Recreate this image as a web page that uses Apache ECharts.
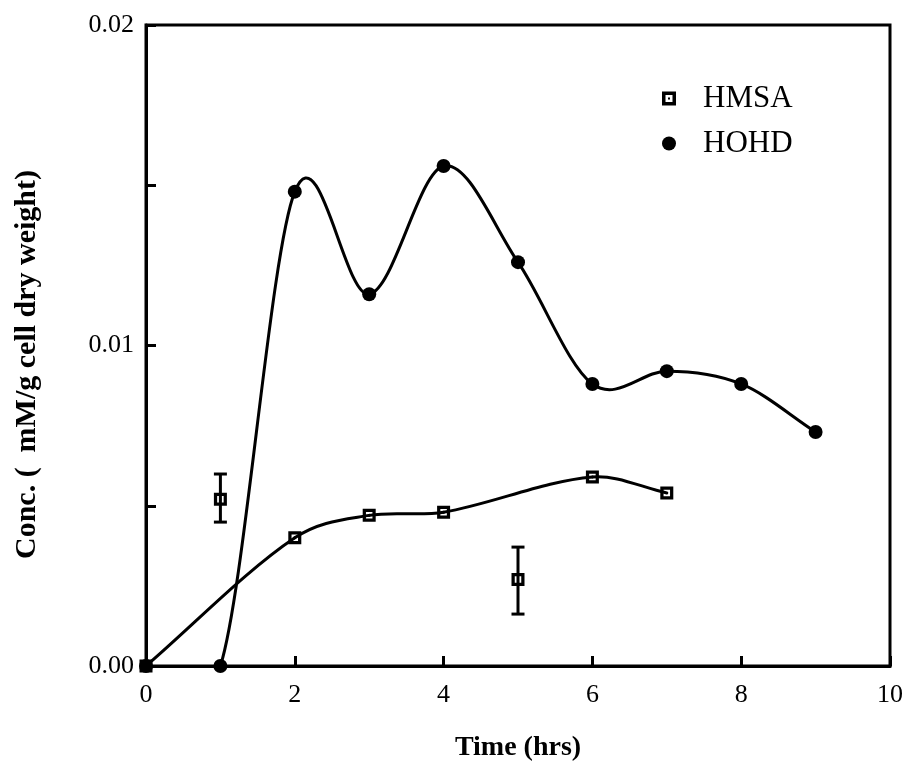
<!DOCTYPE html>
<html>
<head>
<meta charset="utf-8">
<script src="https://cdn.jsdelivr.net/npm/echarts@6/dist/echarts.min.js"></script>
<style>
html,body{margin:0;padding:0;background:#fff;}
#chart{width:906px;height:769px;}
</style>
</head>
<body>
<div id="chart"></div>
<script>
// ---- data ----
const xTicks = [0, 2, 4, 6, 8, 10];
const yTickLabels = ['0.00', '0.01', '0.02'];

const hohdTime = [0, 1, 2, 3, 4, 5, 6, 7, 8, 9];
const hohdConc = [0, 0, 0.0148, 0.0116, 0.0156, 0.0126, 0.0088, 0.0092, 0.0088, 0.0073];

const hmsaTime = [0, 2, 3, 4, 6, 7];
const hmsaConc = [0, 0.0040, 0.0047, 0.0048, 0.0059, 0.0054];

// separate HMSA points with error bars
const hmsaErrTime = [1, 5];
const hmsaErrConc = [0.0052, 0.0027];
const hmsaErrLow  = [0.00449, 0.00162];
const hmsaErrHigh = [0.00599, 0.00371];

const FONT = 'Liberation Serif';
const squareIcon = 'path://M0,0 L14,0 L14,14 L0,14 Z M3.5,3.5 L3.5,10.5 L10.5,10.5 L10.5,3.5 Z M6,6 L8,6 L8,8 L6,8 Z';

const hohdData = hohdTime.map((t, i) => [t, hohdConc[i]]);
const hmsaData = hmsaTime.map((t, i) => [t, hmsaConc[i]]);
const errPts = hmsaErrTime.map((t, i) => [t, hmsaErrConc[i]]);
const errBars = hmsaErrTime.map((t, i) => [t, hmsaErrLow[i], hmsaErrHigh[i]]);

// smooth curve through the data (cubic Hermite segments, drawn via the axes' scales)
function curveRenderer(xs, ys) {
  const n = xs.length;
  const slope = i => {
    if (i === 0) return (ys[1] - ys[0]) / (xs[1] - xs[0]);
    if (i === n - 1) return (ys[n - 1] - ys[n - 2]) / (xs[n - 1] - xs[n - 2]);
    return (ys[i + 1] - ys[i - 1]) / (xs[i + 1] - xs[i - 1]);
  };
  return (params, api) => {
    const i = params.dataIndex;
    if (i >= n - 1) return null;
    const h = xs[i + 1] - xs[i];
    const p0 = api.coord([xs[i], ys[i]]);
    const p1 = api.coord([xs[i + 1], ys[i + 1]]);
    const c0 = api.coord([xs[i] + h / 3, ys[i] + slope(i) * h / 3]);
    const c1 = api.coord([xs[i + 1] - h / 3, ys[i + 1] - slope(i + 1) * h / 3]);
    return {
      type: 'bezierCurve',
      shape: { x1: p0[0], y1: p0[1], x2: p1[0], y2: p1[1],
               cpx1: c0[0], cpy1: c0[1], cpx2: c1[0], cpy2: c1[1] },
      style: { stroke: '#000', lineWidth: 3, fill: null, lineCap: 'round' }
    };
  };
}

const chart = echarts.init(document.getElementById('chart'));
chart.setOption({
  animation: false,
  backgroundColor: '#fff',
  grid: {
    left: 146, top: 25, width: 744, height: 641,
    containLabel: false, outerBoundsMode: 'none',
    show: true, borderColor: '#000', borderWidth: 3, backgroundColor: 'transparent'
  },
  legend: {
    orient: 'vertical',
    left: 657, top: 78,
    itemGap: 14,
    itemWidth: 14, itemHeight: 14,
    textStyle: { fontFamily: FONT, fontSize: 31, color: '#000', padding: [0, 0, 0, 22] },
    data: [
      { name: 'HMSA', icon: squareIcon, itemStyle: { color: '#000', opacity: 1 } },
      { name: 'HOHD', icon: 'circle', itemStyle: { color: '#000', opacity: 1 } }
    ]
  },
  xAxis: {
    type: 'value', min: 0, max: 10, interval: 2,
    name: 'Time (hrs)', nameLocation: 'middle', nameGap: 68,
    nameTextStyle: { fontFamily: FONT, fontSize: 28, fontWeight: 'bold', color: '#000' },
    axisLine: { show: true, lineStyle: { color: '#000', width: 3 } },
    axisTick: { show: true, inside: true, length: 10, lineStyle: { color: '#000', width: 3 } },
    axisLabel: { fontFamily: FONT, fontSize: 26, color: '#000', margin: 16,
      formatter: v => xTicks.includes(v) ? String(v) : '' },
    splitLine: { show: false }
  },
  yAxis: {
    type: 'value', min: 0, max: 0.02, interval: 0.005,
    name: 'Conc. (  mM/g cell dry weight)', nameLocation: 'middle', nameGap: 104,
    nameTextStyle: { fontFamily: FONT, fontSize: 30, fontWeight: 'bold', color: '#000', padding: [0, 38, 0, 0] },
    axisLine: { show: true, lineStyle: { color: '#000', width: 3 } },
    axisTick: { show: true, inside: true, length: 10, lineStyle: { color: '#000', width: 3 } },
    axisLabel: { fontFamily: FONT, fontSize: 26, color: '#000', margin: 12,
      formatter: v => {
        const k = Math.round(v / 0.005);
        return k % 2 === 0 ? yTickLabels[k / 2] : '';
      } },
    splitLine: { show: false }
  },
  series: [
    {
      name: 'HMSA curve', type: 'custom', data: hmsaData, clip: true,
      renderItem: curveRenderer(hmsaTime, hmsaConc), z: 2, silent: true
    },
    {
      name: 'HOHD curve', type: 'custom', data: hohdData, clip: true,
      renderItem: curveRenderer(hohdTime, hohdConc), z: 2, silent: true
    },
    {
      name: 'HMSA error', type: 'custom', data: errBars,
      renderItem: (params, api) => {
        const x = api.value(0);
        const lo = api.coord([x, api.value(1)]);
        const hi = api.coord([x, api.value(2)]);
        const cap = 6.5;
        const st = { stroke: '#000', lineWidth: 3 };
        return {
          type: 'group',
          children: [
            { type: 'line', shape: { x1: lo[0], y1: lo[1], x2: hi[0], y2: hi[1] }, style: st },
            { type: 'line', shape: { x1: lo[0] - cap, y1: lo[1], x2: lo[0] + cap, y2: lo[1] }, style: st },
            { type: 'line', shape: { x1: hi[0] - cap, y1: hi[1], x2: hi[0] + cap, y2: hi[1] }, style: st }
          ]
        };
      },
      z: 2
    },
    {
      name: 'HMSA', type: 'scatter', data: hmsaData,
      symbol: squareIcon, symbolSize: 13,
      itemStyle: { color: '#000', opacity: 1 }, z: 4
    },
    {
      name: 'HMSA points', type: 'scatter', data: errPts,
      symbol: squareIcon, symbolSize: 13,
      itemStyle: { color: '#000', opacity: 1 }, z: 4
    },
    {
      name: 'HOHD', type: 'scatter', data: hohdData,
      symbol: 'circle', symbolSize: 14,
      itemStyle: { color: '#000', opacity: 1 }, z: 4
    }
  ]
});
</script>
</body>
</html>
